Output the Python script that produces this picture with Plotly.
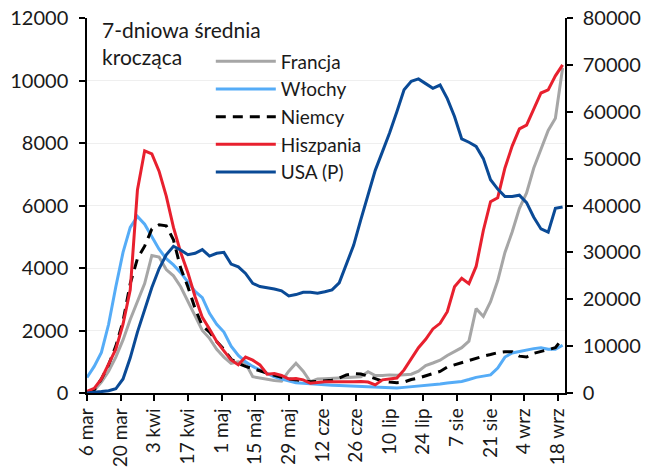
import plotly.graph_objects as go
from datetime import date, timedelta

# sampled every 3 days from 2020-03-06
start = date(2020, 3, 6)
dates = [(start + timedelta(days=3 * i)).isoformat() for i in range(67)]

francja = [30, 80, 350, 700, 1150, 1700, 2350, 2950, 3500, 4400,
           4350, 3950, 3750, 3400, 2950, 2450, 2000, 1750, 1400, 1150,
           950, 1000, 950, 520, 480, 420, 400, 380, 700, 950,
           700, 360, 450, 460, 470, 470, 480, 500, 520, 680,
           560, 560, 580, 570, 580, 600, 700, 880, 960, 1050,
           1200, 1320, 1450, 1660, 2700, 2450, 2920, 3600, 4500, 5150,
           5900, 6400, 7200, 7800, 8400, 8790, 10400]

wlochy = [500, 850, 1300, 2200, 3400, 4500, 5300, 5650, 5400, 5000,
          4600, 4300, 4100, 3850, 3550, 3250, 3050, 2550, 2200, 1950,
          1500, 1200, 1000, 850, 740, 620, 520, 450, 380, 330,
          310, 290, 270, 260, 250, 240, 230, 210, 200, 190,
          170, 160, 150, 160, 180, 200, 210, 240, 260, 290,
          320, 340, 370, 430, 500, 540, 580, 800, 1150, 1280,
          1330, 1380, 1420, 1450, 1400, 1400, 1530]

niemcy = [20, 100, 450, 900, 1500, 2300, 3500, 4300, 4700, 5250,
          5380, 5350, 4900, 4000, 3400, 2700, 2150, 1950, 1650, 1400,
          1080, 950, 850, 780, 700, 620, 560, 500, 450, 420,
          380, 360, 370, 390, 410, 480, 580, 620, 610, 540,
          450, 380, 350, 330, 350, 430, 480, 550, 630, 690,
          830, 900, 960, 1050, 1120, 1180, 1230, 1290, 1320, 1320,
          1180, 1150, 1270, 1330, 1400, 1450, 1750]

hiszpania = [50, 150, 450, 900, 1400, 2200, 3300, 6500, 7750, 7650,
             7100, 6300, 5300, 4500, 3850, 3080, 2420, 2050, 1650, 1350,
             1060, 900, 1150, 1050, 900, 600, 620, 560, 450, 460,
             420, 310, 340, 360, 360, 370, 360, 360, 370, 350,
             260, 420, 440, 480, 740, 1100, 1450, 1720, 2050, 2230,
             2600, 3400, 3670, 3500, 4050, 5200, 6120, 6250, 7200, 7900,
             8450, 8570, 9060, 9600, 9700, 10150, 10500]

usa = [0, 100, 300, 500, 900, 3000, 7500, 13000, 18000, 22500,
       26500, 29500, 31300, 30500, 29500, 29800, 30600, 29200, 29800, 30000,
       27500, 26900, 25500, 23400, 22700, 22500, 22200, 21800, 20700, 21000,
       21500, 21500, 21300, 21600, 22000, 23500, 27500, 31500, 37000, 42000,
       47500, 51500, 55500, 60000, 64700, 66500, 67000, 66000, 65000, 65700,
       62800, 59000, 54200, 53500, 52600, 50000, 45500, 43500, 41900, 41900,
       42200, 40600, 37500, 35000, 34300, 39400, 39700]

tick_dates = [(start + timedelta(days=14 * i)).isoformat() for i in range(15)]
tick_labels = ["6 mar", "20 mar", "3 kwi", "17 kwi", "1 maj", "15 maj", "29 maj",
               "12 cze", "26 cze", "10 lip", "24 lip", "7 sie", "21 sie", "4 wrz", "18 wrz"]

FONT = "Lato"

fig = go.Figure()
fig.add_trace(go.Scatter(x=dates, y=francja, name="Francja", mode="lines",
                         line=dict(color="#A6A6A6", width=3)))
fig.add_trace(go.Scatter(x=dates, y=wlochy, name="Włochy", mode="lines",
                         line=dict(color="#55ACF7", width=3)))
fig.add_trace(go.Scatter(x=dates, y=niemcy, name="Niemcy", mode="lines",
                         line=dict(color="#000000", width=3, dash="10px,7px")))
fig.add_trace(go.Scatter(x=dates, y=hiszpania, name="Hiszpania", mode="lines",
                         line=dict(color="#E8202E", width=3)))
fig.add_trace(go.Scatter(x=dates, y=usa, name="USA (P)", mode="lines", yaxis="y2",
                         line=dict(color="#0A4A96", width=3)))

axis_common = dict(showline=True, linecolor="#000", linewidth=1.5,
                   ticks="outside", ticklen=6, tickcolor="#000", tickwidth=1.5,
                   zeroline=False, automargin=False, ticklabeloverflow="allow")

fig.update_layout(
    width=645, height=469,
    margin=dict(l=87, r=80, t=18, b=76),
    paper_bgcolor="white", plot_bgcolor="white",
    font=dict(family=FONT, size=18, color="#1a1a1a"),
    showlegend=True,
    legend=dict(x=0.259, y=0.935, xanchor="left", yanchor="top",
                bgcolor="rgba(0,0,0,0)", font=dict(size=19, family=FONT),
                itemwidth=60, tracegroupgap=0),
    xaxis=dict(type="date", range=["2020-03-06", "2020-09-21"],
               tickvals=tick_dates, ticktext=tick_labels, tickangle=-90,
               showgrid=False, tickfont=dict(size=19, family=FONT), **axis_common),
    yaxis=dict(range=[0, 12000], dtick=2000, tickformat="d", showgrid=True,
               gridcolor="#EFEFEF", tickfont=dict(size=20, family=FONT),
               ticklabelstandoff=7, **axis_common),
    yaxis2=dict(range=[0, 80000], dtick=10000, tickformat="d", overlaying="y",
                side="right", showgrid=False, tickfont=dict(size=20, family=FONT),
                ticklabelstandoff=6, **axis_common),
    annotations=[dict(x=0.028, y=1.008, xref="paper", yref="paper", xanchor="left",
                      yanchor="top", align="left", showarrow=False,
                      text="7-dniowa średnia<br>krocząca",
                      font=dict(size=21, family=FONT, color="#1a1a1a"))],
)

fig.write_html("out.html", config={"displayModeBar": False},
               post_script="document.body.style.margin='0px';")
